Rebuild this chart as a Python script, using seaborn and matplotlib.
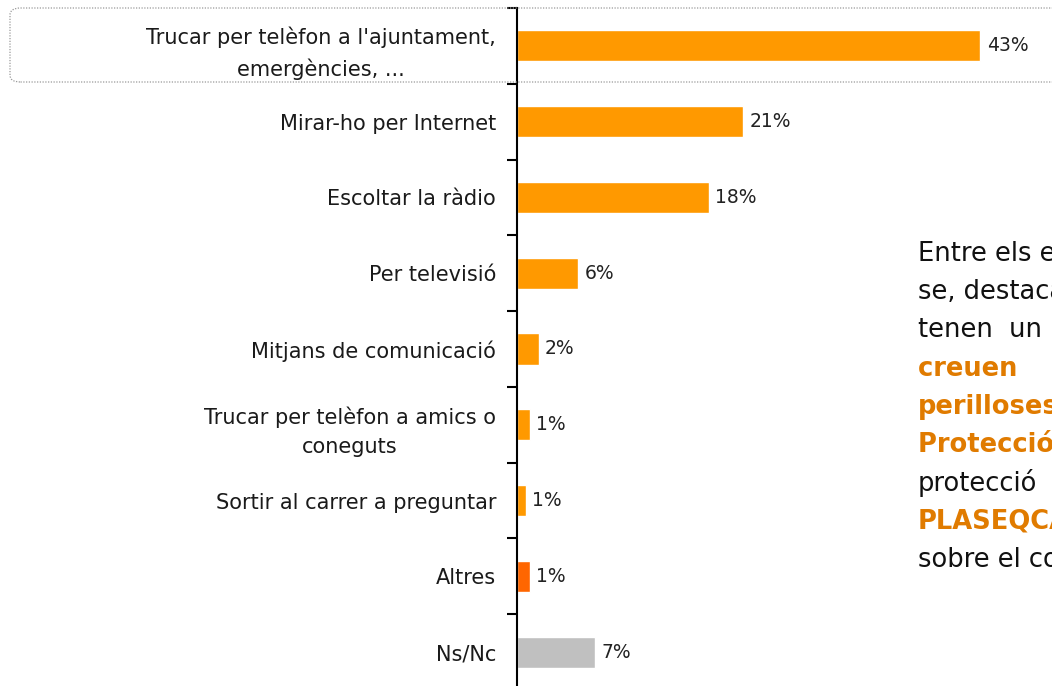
import matplotlib.pyplot as plt
import seaborn as sns
import pandas as pd
from matplotlib.patches import FancyBboxPatch

# Data
categories = ["Trucar per telèfon a l'ajuntament,\nemergències, ...",
              "Mirar-ho per Internet",
              "Escoltar la ràdio",
              "Per televisió",
              "Mitjans de comunicació",
              "Trucar per telèfon a amics o\nconeguts",
              "Sortir al carrer a preguntar",
              "Altres",
              "Ns/Nc"]
values = [43.0, 21.0, 17.8, 5.7, 2.0, 1.2, 0.8, 1.2, 7.2]
labels = ["43%", "21%", "18%", "6%", "2%", "1%", "1%", "1%", "7%"]
bar_colors = ["#FF9900"] * 7 + ["#FF6600", "#C0C0C0"]

side_lines = ["Entre els enquestats", "se, destaca", "tenen  un", "creuen      que",
              "perilloses", "Protecció Civil", "protecció", "PLASEQCAT", "sobre el coneixement"]
side_orange = [False, False, False, True, True, True, False, True, False]

df = pd.DataFrame({"cat": categories, "val": values})

sns.set_style("white")
plt.rcParams['font.family'] = ['DejaVu Sans']

fig = plt.figure(figsize=(10.52, 6.86), dpi=100)
ax = fig.add_axes([517 / 1052, -4 / 686, 535 / 1052, 682 / 686])

sns.barplot(data=df, x="val", y="cat", hue="cat", palette=bar_colors,
            saturation=1, legend=False, width=0.41, ax=ax, orient="h")

ax.set_xlim(0, 535 / 10.77)
ax.set_ylim(len(categories) - 0.5, -0.5)

# value labels
for i, (v, t) in enumerate(zip(values, labels)):
    ax.text(v + 0.6, i, t, va="center", ha="left", fontsize=13.5, color="#222222")

# axis styling
for s in ["top", "right", "bottom"]:
    ax.spines[s].set_visible(False)
ax.spines["left"].set_color("black")
ax.spines["left"].set_linewidth(1.5)
ax.set_xticks([])
ax.set_xlabel("")
ax.set_ylabel("")
ax.set_yticks(range(len(categories)))
ax.set_yticklabels(categories, fontsize=15, color="#1a1a1a")
ax.tick_params(axis="y", which="major", left=True, length=0, pad=15)
ax.set_yticks([i + 0.5 for i in range(-1, len(categories))], minor=True)
ax.tick_params(axis="y", which="minor", left=True, length=7, width=1.5,
               direction="out", color="black")
for lbl in ax.get_yticklabels():
    lbl.set_multialignment("center")
    lbl.set_linespacing(1.6)

# dotted rounded box round the first label
box = FancyBboxPatch((10 / 1052, (686 - 82) / 686), 1060 / 1052, 74 / 686,
                     boxstyle="round,pad=0,rounding_size=0.01",
                     transform=fig.transFigure, fill=False, linestyle=(0, (1, 1.2)),
                     edgecolor="#999999", linewidth=0.9, clip_on=False)
fig.patches.append(box)

# cut-off commentary text on the right
for k, (line, orange) in enumerate(zip(side_lines, side_orange)):
    fig.text(918 / 1052, 1 - (254 + k * 38.2) / 686, line,
             fontsize=18.5, va="center", ha="left",
             color="#E07B00" if orange else "#111111",
             fontweight="bold" if orange else "normal")

fig.savefig("out.png", dpi=100)
